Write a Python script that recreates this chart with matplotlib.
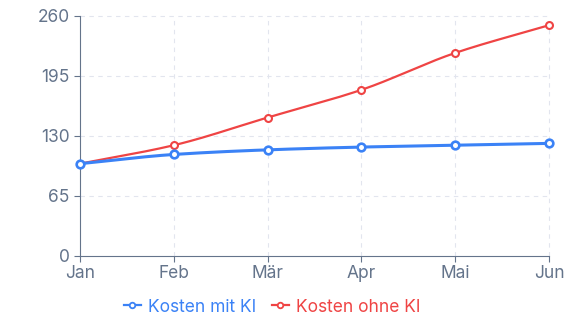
import numpy as np
import matplotlib
matplotlib.use("Agg")
import matplotlib.pyplot as plt
from matplotlib.lines import Line2D

plt.rcParams['font.family'] = ['Inter', 'DejaVu Sans']

months = ["Jan", "Feb", "Mär", "Apr", "Mai", "Jun"]
kosten_mit_ki = [100, 110, 115, 118, 120, 122]
kosten_ohne_ki = [100, 120, 150, 180, 220, 250]
y_ticks = [0, 65, 130, 195, 260]

BLUE = "#3b82f6"
RED = "#ef4444"
AXIS = "#64748b"
GRID = "#e2e5ee"


def monotone_curve(x, y, n=40):
    # monotone cubic (Fritsch-Carlson) used only to draw a smooth path through the points
    x = np.asarray(x, float)
    y = np.asarray(y, float)
    h = np.diff(x)
    d = np.diff(y) / h
    m = np.zeros_like(y)
    m[0], m[-1] = d[0], d[-1]
    for i in range(1, len(y) - 1):
        if d[i - 1] * d[i] <= 0:
            m[i] = 0
        else:
            m[i] = 3 * (h[i - 1] + h[i]) / ((2 * h[i] + h[i - 1]) / d[i - 1] + (h[i] + 2 * h[i - 1]) / d[i])
    xs, ys = [], []
    for i in range(len(h)):
        t = np.linspace(0, 1, n)
        h00 = 2 * t**3 - 3 * t**2 + 1
        h10 = t**3 - 2 * t**2 + t
        h01 = -2 * t**3 + 3 * t**2
        h11 = t**3 - t**2
        xs.append(x[i] + t * h[i])
        ys.append(h00 * y[i] + h10 * h[i] * m[i] + h01 * y[i + 1] + h11 * h[i] * m[i + 1])
    return np.concatenate(xs), np.concatenate(ys)


fig = plt.figure(figsize=(5.7, 3.32), dpi=100)
ax = fig.add_axes([80 / 570, 76 / 332, 469 / 570, 240 / 332])

xi = np.arange(len(months))

ax.set_xlim(0, len(months) - 1)
ax.set_ylim(0, 260)
ax.set_yticks(y_ticks)
ax.set_xticks(xi)
ax.set_xticklabels(months)

for y in y_ticks[1:]:
    ax.axhline(y, color=GRID, lw=0.8, ls=(0, (4, 4)), zorder=0, clip_on=False)
for x in xi[1:]:
    ax.axvline(x, color=GRID, lw=0.8, ls=(0, (4, 4)), zorder=0, clip_on=False)

cx, cy = monotone_curve(xi, kosten_ohne_ki)
ax.plot(cx, cy, color=RED, lw=1.6, zorder=3, clip_on=False)
ax.plot(xi, kosten_ohne_ki, ls="none", marker="o", ms=5, mfc="white", mec=RED, mew=1.5,
        zorder=4, clip_on=False)

cx, cy = monotone_curve(xi, kosten_mit_ki)
ax.plot(cx, cy, color=BLUE, lw=2.2, zorder=5, clip_on=False)
ax.plot(xi, kosten_mit_ki, ls="none", marker="o", ms=5.5, mfc="white", mec=BLUE, mew=1.9,
        zorder=6, clip_on=False)

for side in ("top", "right"):
    ax.spines[side].set_visible(False)
for side in ("left", "bottom"):
    ax.spines[side].set_color(AXIS)
    ax.spines[side].set_linewidth(0.8)
ax.tick_params(colors=AXIS, labelcolor=AXIS, labelsize=12.5, length=4.3, width=0.8)
ax.tick_params(axis="y", pad=3)
ax.tick_params(axis="x", pad=2)

handles = [
    Line2D([], [], color=BLUE, lw=1.6, marker="o", ms=4, mfc="white", mec=BLUE, mew=1.3),
    Line2D([], [], color=RED, lw=1.6, marker="o", ms=4, mfc="white", mec=RED, mew=1.3),
]
leg = fig.legend(handles, ["Kosten mit KI", "Kosten ohne KI"], loc="center",
                 bbox_to_anchor=(272 / 570, 1 - 307 / 332), ncol=2, frameon=False,
                 fontsize=12.5, handlelength=1.0, handletextpad=0.4, columnspacing=0.9)
for text, col in zip(leg.get_texts(), (BLUE, RED)):
    text.set_color(col)

fig.savefig("out.png", dpi=100)
